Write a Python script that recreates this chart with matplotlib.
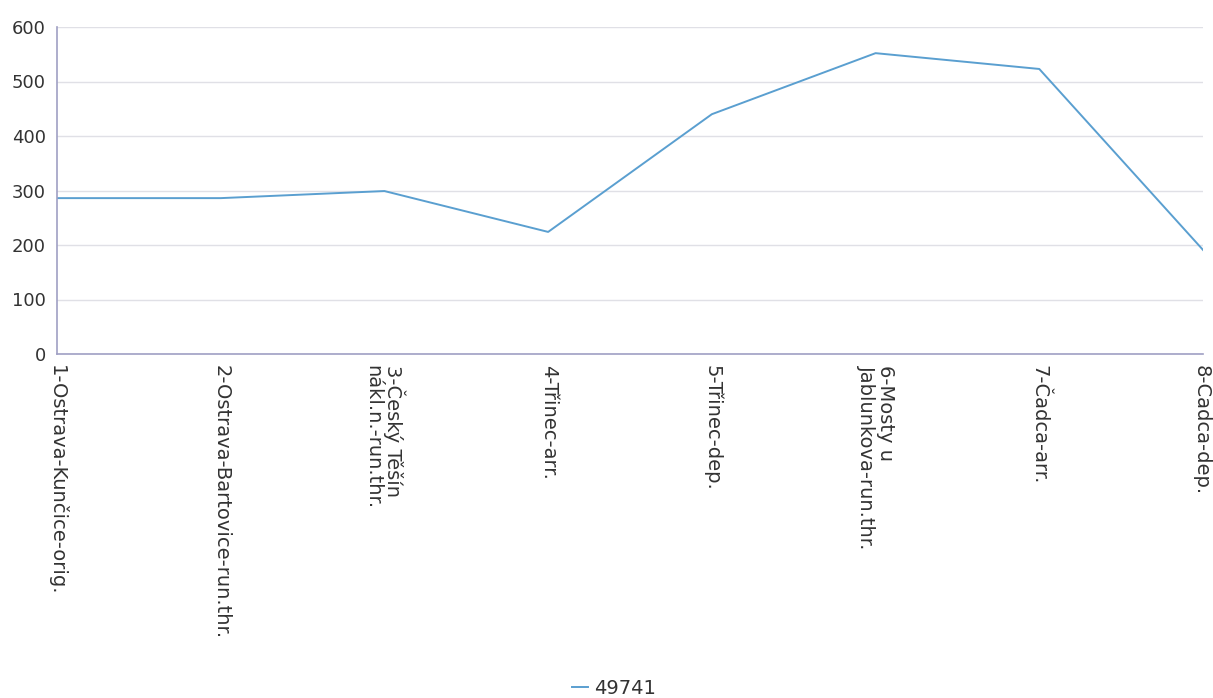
"""Line chart of one train's values along the route stations."""

import matplotlib

matplotlib.use("Agg")
import matplotlib.pyplot as plt
from matplotlib.transforms import ScaledTranslation


STATIONS = [
    "1-Ostrava-Kunčice-orig.",
    "2-Ostrava-Bartovice-run.thr.",
    "3-Český Těšín\nnákl.n.-run.thr.",
    "4-Třinec-arr.",
    "5-Třinec-dep.",
    "6-Mosty u\nJablunkova-run.thr.",
    "7-Čadca-arr.",
    "8-Čadca-dep.",
]
VALUES = [286, 286, 299, 224, 440, 552, 523, 191]
SERIES = "49741"
Y_TICKS = [0, 100, 200, 300, 400, 500, 600]

LINE_COLOR = "#5a9fd0"
AXIS_COLOR = "#a0a0c4"
GRID_COLOR = "#e0e0e6"
TEXT_COLOR = "#333333"


def main() -> None:
    plt.rcParams["font.family"] = ["DejaVu Sans"]
    fig = plt.figure(figsize=(12.13, 6.98), dpi=100)
    ax = fig.add_axes([57 / 1213, 1 - 354 / 698, (1203 - 57) / 1213, (354 - 27) / 698])

    x = list(range(len(STATIONS)))
    ax.plot(x, VALUES, color=LINE_COLOR, linewidth=1.4, label=SERIES)

    ax.set_xlim(0, len(STATIONS) - 1)
    ax.set_ylim(0, 600)
    ax.set_yticks(Y_TICKS)
    ax.set_xticks(x)
    ax.set_xticklabels(
        STATIONS, rotation=270, ha="center", va="top", multialignment="left",
        fontsize=14, color=TEXT_COLOR, linespacing=1.0,
    )
    # labels sit slightly left of their ticks in the reference
    shift = ScaledTranslation(-5 / 100, 0, fig.dpi_scale_trans)
    for label in ax.get_xticklabels():
        label.set_transform(label.get_transform() + shift)
    ax.tick_params(axis="y", labelsize=13, labelcolor=TEXT_COLOR, length=0, pad=8)
    ax.tick_params(axis="x", length=0, pad=8)

    ax.grid(axis="y", color=GRID_COLOR, linewidth=1)
    ax.set_axisbelow(True)
    for side in ("top", "right"):
        ax.spines[side].set_visible(False)
    for side in ("left", "bottom"):
        ax.spines[side].set_color(AXIS_COLOR)
        ax.spines[side].set_linewidth(1.2)

    fig.legend(
        loc="center",
        bbox_to_anchor=(614 / 1213, 1 - 688 / 698),
        frameon=False,
        fontsize=14,
        handlelength=0.8,
        handletextpad=0.3,
        labelcolor=TEXT_COLOR,
    )
    fig.savefig("out.png", dpi=100)
    plt.close(fig)


if __name__ == "__main__":
    main()
